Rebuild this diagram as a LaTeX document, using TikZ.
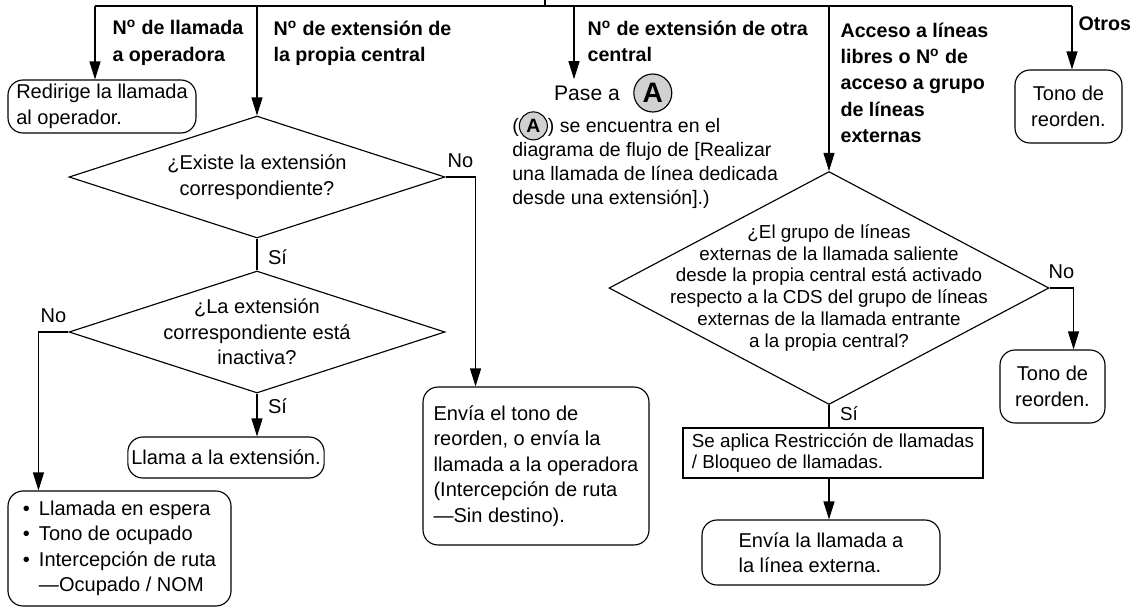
\documentclass[tikz,border=0pt]{standalone}
\usepackage{fontspec}
\setmainfont{Liberation Sans}
\usetikzlibrary{arrows.meta,positioning,shapes.geometric}
\newcommand{\regfont}{\fontsize{11.4}{14.5}\selectfont}
\newcommand{\smallfont}{\fontsize{10.7}{12.5}\selectfont}
\newcommand{\labfont}{\fontsize{11.2}{15}\selectfont\bfseries}
\newcommand{\numo}{N\textsuperscript{o}}
\newcommand{\smallA}{\tikz[baseline=(m.base)]\node[circle,draw,line width=0.6pt,fill=black!18,inner sep=0pt,minimum size=0.56cm,font=\fontsize{11}{11}\selectfont\bfseries](m){A};}
\newcommand{\bul}{\textbullet\hspace{0.45em}}

\begin{document}
\begin{tikzpicture}[x=0.02cm, y=-0.02cm, line width=0.65pt,
    every node/.style={font=\regfont},
    arr/.style={-{Triangle[length=3.6mm,width=2.2mm]}},
    endbox/.style={draw, rounded corners=0.3cm, align=left, inner sep=2pt},
    actbox/.style={draw, align=left, inner sep=2pt},
    decide/.style={draw, diamond, inner sep=0pt},
    qtext/.style={align=center, inner sep=0pt},
    branch/.style={font=\labfont, align=left, anchor=north west, inner sep=0pt},
    ans/.style={inner sep=2pt},
    markcirc/.style={circle, draw, fill=black!18, inner sep=0pt}]
\useasboundingbox (0,0) rectangle (1140,606);
\clip (0,0) rectangle (1140,606);

% entry bar and branch points
\foreach \n/\x in {1/95,2/257,3/574,4/829,5/1072}{\coordinate (b\n) at (\x,6);}
\coordinate (entry) at (545,6);
\draw (b1) -- (b5) (entry) -- ++(0,-10);

\node[branch] (l1) at (112,20) {\numo{} de llamada\\a operadora};
\node[branch] (l2) at (273,20) {\numo{} de extensión de\\la propia central};
\node[branch] (l3) at (587,20) {\numo{} de extensión de otra\\central};
\node[branch] (l4) at (840,22) {Acceso a líneas\\libres o \numo{} de\\acceso a grupo\\de líneas\\externas};
\node[branch] (l5) at (1078,16) {Otros};

% left branch
\node[endbox, minimum width=3.76cm, minimum height=1.06cm] (redir) at (102,106.5) {Redirige la llamada\\al operador.};
\node[decide, minimum width=7.52cm, minimum height=2.44cm] (q1) at (257,177) {};
\node[qtext] (q1txt) at (q1) {¿Existe la extensión\\correspondiente?};
\node[decide, minimum width=7.52cm, minimum height=2.44cm] (q2) at (257,332) {};
\node[qtext] (q2txt) at (q2) {¿La extensión\\correspondiente está\\inactiva?};
\node[endbox, minimum width=3.44cm, minimum height=0.82cm] (llama) at (226,457.5) {Llama a la extensión.};
\node[endbox, minimum width=4.46cm, minimum height=2.3cm] (busy) at (119.5,548.5)
    {\bul Llamada en espera\\\bul Tono de ocupado\\\bul Intercepción de ruta\\\phantom{\bul}—Ocupado / NOM};
\node[endbox, minimum width=4.52cm, minimum height=3.16cm] (envia) at (536,466)
    {Envía el tono de\\reorden, o envía la\\llamada a la operadora\\(Intercepción de ruta\\—Sin destino).};

% other exchange
\node[font=\fontsize{12}{14}\selectfont] (pase) at (587,93) {Pase a};
\node[markcirc, minimum size=0.76cm, font=\fontsize{16}{16}\selectfont\bfseries, right=0.14cm of pase] (goA) {A};
\node[align=left, anchor=north west, inner sep=0pt, font=\fontsize{11.1}{13.6}\selectfont] (remark) at (512,111)
    {(\smallA) se encuentra en el\\diagrama de flujo de [Realizar\\una llamada de línea dedicada\\desde una extensión].)};

% trunk access
\node[decide, minimum width=8.8cm, minimum height=4.66cm] (q3) at (829,288) {};
\node[qtext, font=\smallfont] (q3txt) at (q3) {¿El grupo de líneas\\externas de la llamada saliente\\desde la propia central está activado\\respecto a la CDS del grupo de líneas\\externas de la llamada entrante\\a la propia central?};
\node[actbox, minimum width=6cm, minimum height=1cm, font=\smallfont] (restr) at (833,453) {Se aplica Restricción de llamadas\\/ Bloqueo de llamadas.};
\node[endbox, minimum width=4.76cm, minimum height=1.3cm] (envext) at (821,552.5) {Envía la llamada a\\la línea externa.};
\node[endbox, align=center, minimum width=2.1cm, minimum height=1.46cm] (tono2) at (1052.5,386.5) {Tono de\\reorden.};
\node[endbox, align=center, minimum width=2.14cm, minimum height=1.46cm] (tono1) at (1068.5,106.5) {Tono de\\reorden.};

% connectors
\draw[arr] (b1) -- (b1 |- redir.north);
\draw[arr] (b2) -- (q1.north);
\draw[arr] (b3) -- (b3 |- pase.north);
\draw[arr] (b4) -- (q3.north);
\draw[arr] (b5) -- (b5 |- tono1.north);
\draw (q1.south) -- node[ans, right=4pt, pos=0.6] (s1) {Sí} (q2.north);
\draw[arr] (q1.east) -- node[ans, above=3pt] (n1) {No} ++(30,0) coordinate (q1no) -- (q1no |- envia.north);
\draw[arr] (q2.west) -- node[ans, above=3pt] (n2) {No} ++(-30,0) coordinate (q2no) -- (q2no |- busy.north);
\draw[arr] (q2.south) -- node[ans, right=4pt, pos=0.3] (s2) {Sí} (q2.south |- llama.north);
\draw[arr] (q3.east) -- node[ans, above=3pt] (n3) {No} ++(24,0) coordinate (q3no) -- (q3no |- tono2.north);
\draw (q3.south) -- node[ans, right=4pt, pos=0.4, font=\smallfont] (s3) {Sí} (q3.south |- restr.north);
\draw[arr] (q3.south |- restr.south) -- (q3.south |- envext.north);
\end{tikzpicture}
\end{document}
